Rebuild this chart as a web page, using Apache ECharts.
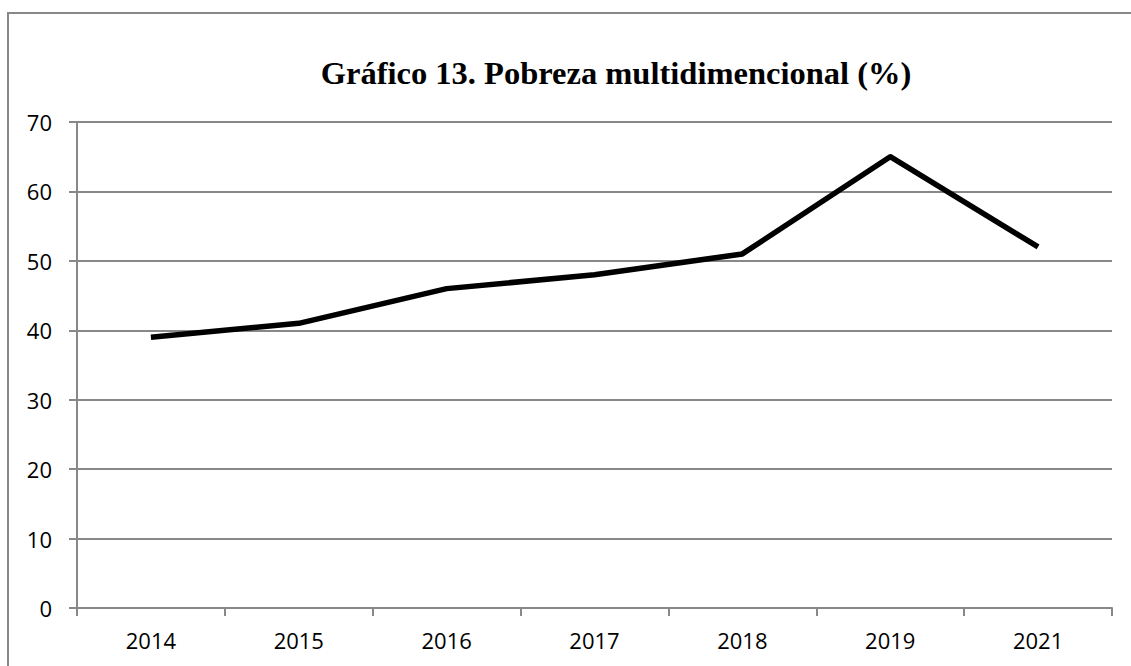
<!DOCTYPE html>
<html>
<head>
<meta charset="utf-8">
<script src="https://cdn.jsdelivr.net/npm/echarts@6/dist/echarts.min.js"></script>
<style>
  html, body { margin: 0; padding: 0; background: #fff; }
  #chart { width: 1131px; height: 666px; }
</style>
</head>
<body>
<div id="chart"></div>
<script>
const years = ['2014', '2015', '2016', '2017', '2018', '2019', '2021'];
const pobreza = [39, 41, 46, 48, 51, 65, 52];
const titleText = 'Gráfico 13. Pobreza multidimencional (%)';

const chart = echarts.init(document.getElementById('chart'), null, { renderer: 'svg' });
chart.setOption({
  animation: false,
  backgroundColor: '#fff',
  title: {
    text: titleText,
    left: 611,
    top: 51,
    textAlign: 'center',
    textStyle: {
      fontFamily: 'Liberation Serif',
      fontWeight: 'bold',
      fontSize: 32.5,
      color: '#000'
    }
  },
  graphic: [
    {
      type: 'rect',
      shape: { x: 8, y: 13, width: 1140, height: 680 },
      style: { fill: 'none', stroke: '#888', lineWidth: 2 },
      silent: true
    }
  ],
  grid: { left: 77, right: 19, top: 122, bottom: 58 },
  xAxis: {
    type: 'category',
    data: years,
    boundaryGap: true,
    axisLine: { lineStyle: { color: '#888', width: 2 } },
    axisTick: { show: true, length: 8, lineStyle: { color: '#888', width: 2 } },
    axisLabel: { color: '#000', fontFamily: 'Open Sans', fontSize: 22, margin: 21 }
  },
  yAxis: {
    type: 'value',
    min: 0,
    max: 70,
    interval: 10,
    axisLine: { show: true, lineStyle: { color: '#888', width: 2 } },
    axisTick: { show: true, length: 8, lineStyle: { color: '#888', width: 2 } },
    axisLabel: { color: '#000', fontFamily: 'Open Sans', fontSize: 22, margin: 25 },
    splitLine: { lineStyle: { color: '#888', width: 2 } }
  },
  series: [
    {
      type: 'line',
      data: pobreza,
      symbol: 'none',
      lineStyle: { color: '#000', width: 5.5, join: 'round' }
    }
  ]
});
</script>
</body>
</html>
